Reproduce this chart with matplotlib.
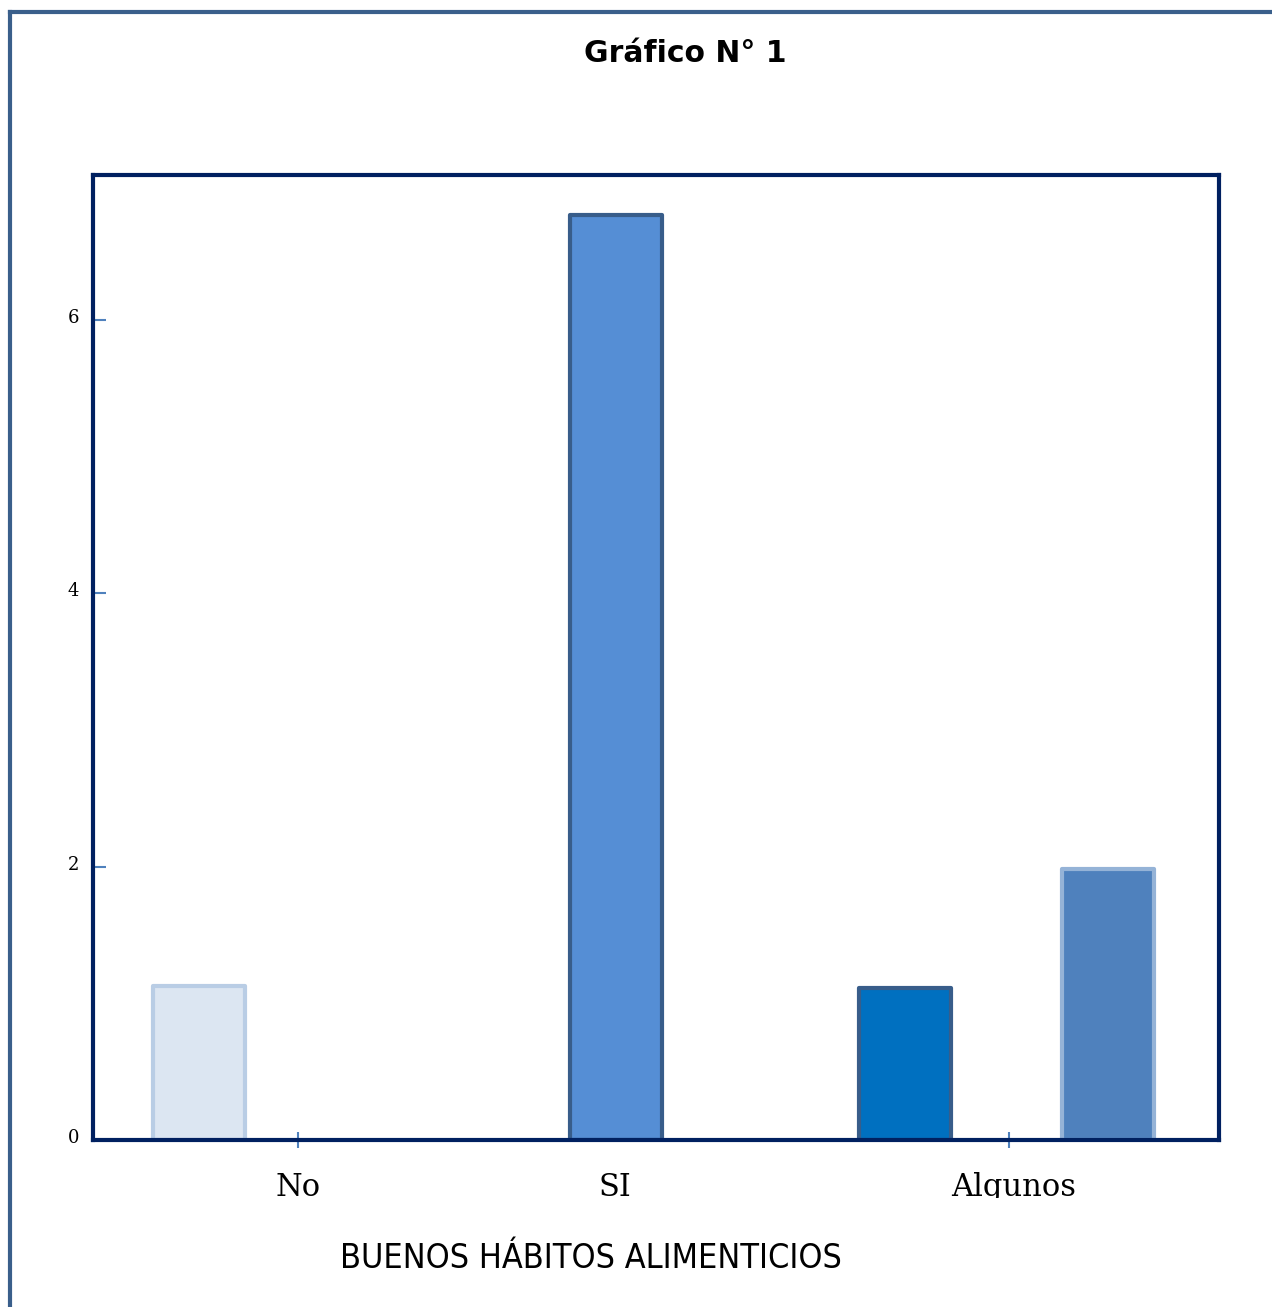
import numpy as np
import matplotlib.pyplot as plt
from matplotlib.lines import Line2D
import matplotlib.transforms as mtransforms

# survey answers
categories = ["No", "SI", "Algunos"]
bar_labels = ["No", "SI", "Algunos 1", "Algunos 2"]
bar_values = [1.13, 6.77, 1.11, 1.98]
yticks = [0, 2, 4, 6]

# bar placement along the category axis (No = 0, Algunos = 2)
bar_pos = [-0.278, 0.894, 1.707, 2.278]
tick_pos = [0.0, 0.89, 2.0]
fills = ["#DCE6F2", "#558ED5", "#0070C0", "#4F81BD"]
edges = ["#B9CDE5", "#385D8A", "#385D8A", "#95B3D7"]

W, H = 1272, 1307
fig = plt.figure(figsize=(W / 100, H / 100), dpi=100)
ax = fig.add_axes([93 / W, 1 - 1140 / H, (1219 - 93) / W, (1140 - 175) / H])

for x, v, fc, ec in zip(bar_pos, bar_values, fills, edges):
    ax.bar(x, v, width=0.258, color=fc, edgecolor=ec, linewidth=3.0,
           joinstyle="round", zorder=2)

ax.set_xlim(-0.577, 2.591)
ax.set_ylim(0, 7.06)

for s in ax.spines.values():
    s.set_color("#002060")
    s.set_linewidth(3.0)
    s.set_zorder(3)

ax.set_yticks(yticks)
ax.set_yticklabels([str(t) for t in yticks], family="DejaVu Serif", fontsize=13)
ax.tick_params(axis="y", direction="in", length=9, width=1.5, color="#4F81BD",
               pad=10)
for lab in ax.get_yticklabels():
    lab.set_transform(lab.get_transform() +
                      mtransforms.ScaledTranslation(0, 0.04, fig.dpi_scale_trans))

ax.set_xticks(tick_pos)
ax.set_xticklabels(categories, family="DejaVu Serif", fontsize=22)
ax.tick_params(axis="x", direction="inout", length=12, width=1.5, color="#4F81BD",
               pad=17)
# the SI tick sits behind its bar
ax.xaxis.get_major_ticks()[1].tick1line.set_visible(False)

# category labels are cut off just under the baseline
clip = mtransforms.Bbox.from_extents(0, 1307 - 1198, W, 1307 - 1141)
for lab in ax.get_xticklabels():
    lab.set_clip_box(mtransforms.TransformedBbox(clip, mtransforms.IdentityTransform()))
    lab.set_clip_on(True)
ax.get_xticklabels()[2].set_transform(
    ax.get_xticklabels()[2].get_transform() +
    mtransforms.ScaledTranslation(0.05, 0, fig.dpi_scale_trans))

fig.text(591 / W, 1 - 1258 / H, "BUENOS HÁBITOS ALIMENTICIOS", ha="center",
         va="center", fontsize=24.5, family="DejaVu Sans", stretch="condensed")
fig.text(685 / W, 1 - 53 / H, "Gráfico N° 1", ha="center", va="center",
         fontsize=21.5, fontweight="bold", family="DejaVu Sans")

# outer frame
fig.add_artist(Line2D([10 / W, 10 / W], [0, 1 - 12 / H], color="#3A5F8B",
                      linewidth=3.0, transform=fig.transFigure))
fig.add_artist(Line2D([10 / W, 1], [1 - 12 / H, 1 - 12 / H], color="#3A5F8B",
                      linewidth=3.0, transform=fig.transFigure))

fig.savefig("out.png", dpi=100)
